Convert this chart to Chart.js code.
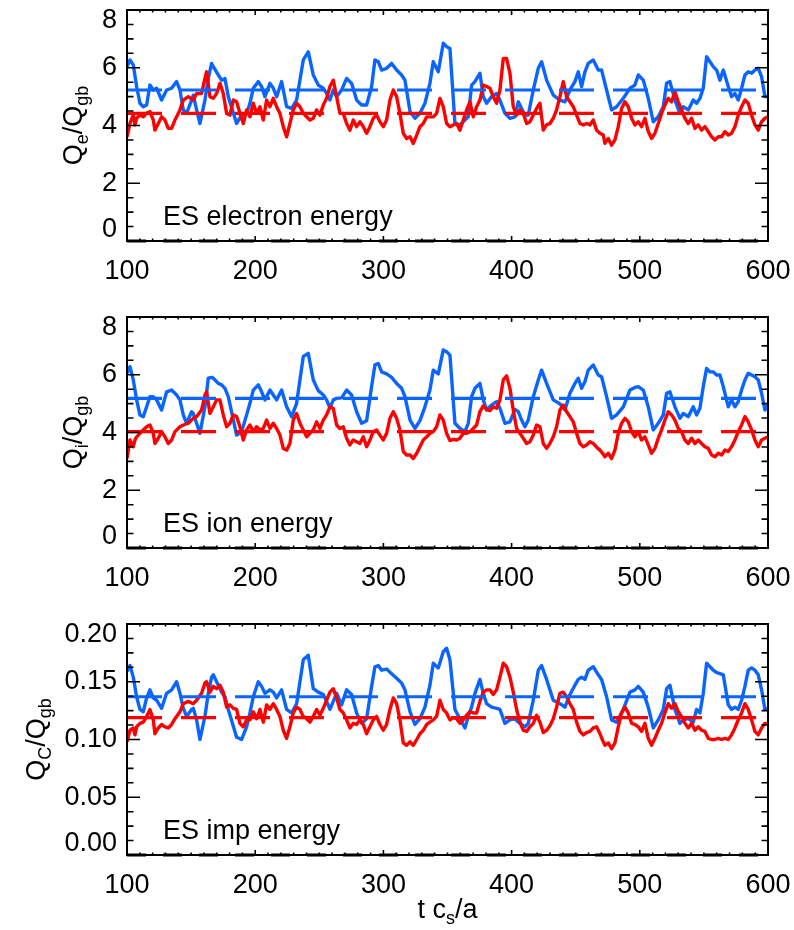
<!DOCTYPE html>
<html><head><meta charset="utf-8">
<script src="https://cdn.jsdelivr.net/npm/chart.js@4.4.1/dist/chart.umd.min.js"></script>
<style>
html,body{margin:0;padding:0;background:#fff;}
#wrap{position:relative;width:794px;height:930px;overflow:hidden;background:#fff;}
canvas{position:absolute;left:0;}
</style></head><body>
<div id="wrap">
<canvas id="c1" width="794" height="307" style="top:0px;width:794px;height:307px"></canvas>
<canvas id="c2" width="794" height="307" style="top:307px;width:794px;height:307px"></canvas>
<canvas id="c3" width="794" height="316" style="top:614px;width:794px;height:316px"></canvas>
</div>
<script>
// ---------------- data ----------------
const xTicks = [100, 200, 300, 400, 500, 600];
const panelLabels = ["ES electron energy", "ES ion energy", "ES imp energy"];

const tBlue = [100.0,102.3,104.9,107.5,110.1,112.7,115.3,117.9,120.5,123.1,127.0,130.9,134.8,138.7,141.3,143.9,146.5,150.4,151.7,154.3,156.9,160.8,163.4,166.0,167.3,171.2,173.8,176.4,179.0,185.5,189.4,193.3,195.9,198.5,202.4,205.0,207.6,211.5,214.1,216.7,220.6,224.5,228.4,232.3,237.5,241.4,245.3,249.2,253.1,255.7,258.3,260.9,263.5,267.4,271.3,275.2,279.1,283.0,286.9,290.8,293.4,296.0,298.6,302.5,306.4,310.3,314.2,316.8,320.8,324.6,328.5,332.4,336.3,338.9,342.8,346.7,349.3,
351.9,355.8,359.7,363.6,366.2,368.8,371.4,375.3,377.9,380.5,384.4,388.3,390.9,394.8,398.7,402.6,405.2,407.8,410.4,413.0,416.9,420.8,423.4,427.3,432.5,437.7,441.6,445.5,449.4,452.0,454.6,457.2,459.8,463.7,467.6,470.2,474.1,478.0,481.9,487.1,492.3,496.2,498.8,502.7,506.6,510.5,514.4,518.3,520.9,523.5,527.4,531.3,533.9,537.8,541.7,544.3,546.9,549.5,552.1,554.7,557.3,559.9,562.5,565.1,569.0,571.6,574.2,576.8,579.4,582.0,584.6,587.2,589.8,592.4,595.0,597.6,600.0];

const tRed = [100.0,102.3,104.9,106.2,107.5,110.1,112.7,115.3,117.9,120.5,121.8,124.4,127.0,129.6,132.2,134.8,137.4,141.3,143.9,147.8,151.7,154.3,158.2,160.8,162.1,
164.7,167.3,169.9,172.5,175.1,177.7,180.3,182.9,185.5,188.1,190.7,193.3,195.9,198.5,201.1,203.7,206.3,208.9,211.5,214.1,216.7,219.3,221.9,224.5,227.1,229.7,232.3,234.9,237.5,240.1,242.7,245.3,247.9,250.5,253.1,255.7,258.3,260.9,263.5,266.1,268.7,271.3,273.9,276.5,279.1,281.7,284.3,286.9,289.5,292.1,294.7,297.3,299.9,302.5,305.1,307.7,310.3,312.9,315.5,318.1,320.8,323.3,326.0,328.5,331.1,333.8,336.3,338.9,341.5,344.1,346.7,
349.3,351.9,354.5,357.1,359.7,362.3,364.9,367.5,370.1,372.7,375.3,377.9,380.5,383.1,385.7,388.3,390.9,393.5,396.1,398.7,401.3,403.9,406.5,409.1,411.7,414.3,416.9,419.5,422.1,424.7,427.3,429.9,432.5,435.1,437.7,440.3,442.9,445.5,448.1,450.7,453.3,455.9,458.5,461.1,463.7,466.3,468.9,471.5,
472.8,475.4,478.0,480.6,483.2,485.8,488.4,491.0,493.6,496.2,498.8,501.4,504.0,506.6,509.2,511.8,514.4,517.0,519.6,522.2,524.8,527.4,530.0,532.6,535.2,537.8,540.4,543.0,545.6,548.2,550.8,553.4,556.0,558.6,561.2,563.8,566.4,569.0,571.6,574.2,576.8,579.4,582.0,584.6,587.2,589.8,592.4,595.0,597.6,600.0];

// electron energy flux
const eBlue = [6.04,6.27,6.10,5.35,4.77,4.65,4.71,5.40,5.23,5.29,4.88,5.23,5.29,5.52,5.23,4.54,4.42,4.88,5.05,4.54,4.07,4.88,5.63,6.15,6.04,5.75,5.57,5.63,5.00,4.07,4.36,4.42,4.77,5.29,5.52,5.35,5.00,5.46,5.29,5.00,5.52,4.65,4.59,4.88,6.27,6.55,5.75,5.40,5.29,5.11,4.88,5.23,5.00,5.23,5.63,5.46,4.88,4.71,4.71,5.35,6.27,6.21,5.92,5.98,6.15,5.92,5.75,5.57,4.48,4.25,4.42,4.77,5.46,6.21,5.86,6.85,6.73,
6.67,4.07,4.02,4.19,4.30,5.40,5.52,5.81,5.00,4.77,5.00,5.11,4.88,4.42,4.25,4.30,4.82,4.59,4.36,4.36,5.23,5.98,6.21,5.57,5.05,4.88,4.82,5.23,5.52,5.86,5.35,5.86,6.15,6.27,5.92,5.92,5.23,4.54,4.65,4.94,5.29,5.40,5.75,5.57,4.94,4.13,4.30,4.65,5.46,5.52,4.88,4.42,4.65,4.54,4.88,4.77,4.94,5.29,6.38,6.21,6.04,5.92,5.57,5.92,5.35,5.00,5.11,4.88,5.29,5.75,5.86,5.81,5.92,5.98,5.69,5.00,5.00];
const eRed = [3.61,4.07,4.36,4.02,4.25,4.36,4.30,4.42,4.48,4.19,3.84,4.07,4.30,4.19,3.90,3.90,4.19,4.54,4.88,5.00,4.88,5.11,5.11,5.63,5.86,
5.00,4.94,5.11,5.46,5.11,4.42,4.36,4.88,4.82,4.42,4.07,4.54,4.30,4.77,4.42,4.65,4.19,4.88,4.65,4.94,4.65,4.42,3.96,3.61,4.07,4.54,4.77,4.65,4.42,4.30,4.19,4.25,4.54,4.36,4.71,4.94,5.35,5.57,5.00,4.42,4.42,4.07,3.84,4.19,3.96,4.13,3.96,3.73,3.96,4.25,4.36,4.13,3.96,4.19,4.88,5.23,5.00,4.42,3.73,3.55,3.61,3.38,3.67,3.96,4.07,4.30,4.30,4.30,4.42,4.94,4.65,
4.07,3.96,4.02,4.07,3.84,4.19,4.54,4.82,4.30,4.65,4.88,5.40,5.35,5.29,5.00,4.77,5.23,6.32,6.32,5.81,4.65,4.36,4.54,4.42,4.07,4.13,4.36,4.59,4.77,3.84,4.02,4.07,4.25,4.54,5.00,5.52,5.00,4.82,4.65,4.36,4.07,4.02,4.07,4.02,4.19,3.84,3.73,3.67,
3.38,3.55,3.32,3.50,3.96,4.59,4.82,4.65,4.25,4.02,4.13,3.96,4.25,3.79,3.55,3.73,4.07,4.42,4.71,4.94,4.82,5.17,4.82,4.54,4.25,4.07,4.25,3.90,4.02,3.84,3.96,3.79,3.61,3.50,3.61,3.61,3.79,3.67,3.73,3.96,4.36,4.65,4.88,4.77,4.36,4.02,3.84,4.13,4.25,4.30];
const eBlueMean = 5.23;
const eRedMean = 4.42;

// ion energy flux
const iBlue = [6.05,6.28,5.82,5.13,4.61,4.55,4.89,5.24,5.24,5.13,4.78,5.41,5.47,5.30,5.13,4.61,4.32,4.72,4.66,4.32,3.97,4.89,5.88,5.91,5.88,5.70,5.65,5.53,5.24,3.91,4.03,4.61,5.01,5.47,5.65,5.41,5.13,5.47,5.30,5.13,5.47,4.89,4.55,5.01,6.63,6.74,5.82,5.45,5.30,5.13,4.84,5.13,5.18,5.20,5.47,5.30,4.72,4.32,4.41,5.59,6.34,6.39,6.10,6.03,5.91,5.70,5.53,5.24,4.43,4.14,4.41,4.89,5.47,6.16,6.03,6.86,6.80,
6.68,4.32,4.14,4.03,4.32,5.24,5.53,5.70,5.13,4.78,4.95,5.07,4.84,4.32,4.37,4.80,4.72,4.43,4.20,4.43,5.24,5.82,6.16,5.70,5.13,4.99,4.78,5.36,5.70,5.88,5.53,5.76,6.16,6.34,5.99,5.93,5.24,4.49,4.61,4.89,5.47,5.56,5.59,5.47,4.89,4.09,4.32,4.61,5.36,5.41,4.89,4.49,4.66,4.55,4.89,4.61,4.84,5.59,6.22,6.10,6.10,5.99,5.99,5.59,4.89,5.13,4.89,5.07,5.47,5.82,6.05,5.99,5.93,5.82,5.36,4.78,4.95];
const iRed = [3.10,3.74,3.51,3.74,3.85,3.97,4.09,4.20,4.26,3.97,3.62,3.80,4.03,3.85,3.62,3.74,4.03,4.20,4.26,4.32,4.49,4.55,4.78,5.30,5.41,
4.66,4.89,5.13,5.13,4.61,4.20,4.32,4.61,4.55,4.20,3.74,4.09,4.26,4.03,4.20,4.09,4.14,4.43,4.14,4.32,4.14,3.91,3.45,3.39,3.62,4.43,4.66,4.32,4.09,3.85,3.97,4.09,4.37,4.14,4.43,4.61,4.89,4.84,4.26,4.14,4.20,3.80,3.57,3.74,3.68,3.62,3.85,3.51,3.74,4.03,4.09,3.91,3.74,3.97,4.49,4.72,4.49,4.09,3.34,3.22,3.22,3.10,3.28,3.51,3.74,3.85,3.97,4.03,4.20,4.61,4.43,
3.97,3.72,3.76,3.74,3.80,3.97,3.97,4.03,4.14,4.26,4.72,4.92,4.80,4.76,4.89,4.84,5.13,5.82,5.96,5.53,4.78,4.14,3.97,3.80,3.62,3.68,3.91,4.26,4.20,3.62,3.45,3.62,3.85,4.20,4.78,4.95,4.72,4.55,4.37,3.97,3.62,3.51,3.57,3.68,3.62,3.49,3.39,3.25,
3.16,3.28,3.10,3.39,3.97,4.32,4.49,4.37,4.03,3.85,4.03,3.74,3.85,3.57,3.28,3.45,3.80,4.09,4.43,4.72,4.61,4.43,4.14,4.03,3.74,3.62,3.80,3.62,3.74,3.62,3.51,3.45,3.22,3.16,3.28,3.22,3.39,3.34,3.51,3.74,4.03,4.26,4.55,4.37,4.09,3.74,3.51,3.74,3.80,3.85];
const iBlueMean = 5.18;
const iRedMean = 4.03;

// impurity (C) energy flux
const cBlue = [0.159,0.164,0.154,0.137,0.126,0.124,0.136,0.143,0.136,0.134,0.127,0.140,0.143,0.150,0.140,0.127,0.120,0.126,0.127,0.117,0.100,0.120,0.140,0.154,0.156,0.147,0.141,0.137,0.126,0.102,0.100,0.111,0.123,0.137,0.150,0.146,0.140,0.143,0.141,0.136,0.143,0.126,0.123,0.131,0.169,0.173,0.144,0.141,0.139,0.133,0.126,0.133,0.140,0.130,0.143,0.139,0.123,0.114,0.118,0.146,0.163,0.164,0.160,0.161,0.157,0.153,0.149,0.143,0.124,0.113,0.118,0.128,0.147,0.166,0.162,0.176,0.179,
0.169,0.126,0.118,0.110,0.120,0.128,0.140,0.152,0.140,0.131,0.128,0.127,0.126,0.114,0.117,0.118,0.115,0.113,0.111,0.114,0.134,0.160,0.164,0.152,0.134,0.131,0.128,0.139,0.147,0.152,0.154,0.152,0.160,0.163,0.156,0.152,0.137,0.117,0.115,0.126,0.141,0.143,0.146,0.141,0.128,0.110,0.117,0.126,0.144,0.147,0.126,0.114,0.117,0.118,0.115,0.126,0.123,0.140,0.166,0.163,0.160,0.158,0.157,0.156,0.130,0.126,0.128,0.126,0.134,0.146,0.160,0.162,0.160,0.156,0.143,0.126,0.127];
const cRed = [0.098,0.108,0.110,0.104,0.111,0.114,0.115,0.120,0.126,0.117,0.105,0.110,0.113,0.111,0.110,0.113,0.118,0.124,0.131,0.133,0.131,0.134,0.140,0.149,0.150,
0.141,0.146,0.144,0.147,0.141,0.128,0.130,0.127,0.126,0.114,0.111,0.117,0.117,0.124,0.118,0.126,0.115,0.130,0.126,0.131,0.126,0.120,0.108,0.101,0.111,0.123,0.128,0.126,0.120,0.118,0.115,0.120,0.126,0.121,0.127,0.134,0.141,0.144,0.136,0.126,0.123,0.117,0.110,0.114,0.113,0.117,0.113,0.105,0.111,0.117,0.120,0.113,0.108,0.113,0.126,0.136,0.131,0.117,0.097,0.095,0.098,0.095,0.100,0.105,0.108,0.113,0.115,0.117,0.120,0.134,0.126,
0.123,0.117,0.119,0.118,0.114,0.117,0.121,0.124,0.123,0.123,0.133,0.141,0.143,0.143,0.139,0.143,0.154,0.166,0.163,0.154,0.141,0.126,0.115,0.108,0.107,0.111,0.114,0.121,0.115,0.106,0.108,0.112,0.118,0.128,0.140,0.141,0.137,0.131,0.126,0.115,0.107,0.104,0.106,0.107,0.110,0.111,0.105,0.098,
0.095,0.097,0.092,0.097,0.111,0.123,0.128,0.123,0.114,0.113,0.111,0.107,0.114,0.101,0.095,0.101,0.108,0.114,0.123,0.131,0.127,0.131,0.124,0.120,0.114,0.110,0.114,0.108,0.111,0.108,0.107,0.101,0.100,0.100,0.101,0.100,0.101,0.100,0.104,0.110,0.117,0.123,0.131,0.126,0.117,0.107,0.104,0.110,0.114,0.114];
const cBlueMean = 0.137;
const cRedMean = 0.119;

// ---------------- styling ----------------
const FONT = '"Liberation Sans", Arial, Helvetica, sans-serif';
const RED = '#ff0000';
const BLUE = '#0a64ff';
const MAIN_PX = 27, SUB_PX = 18, SUB_DY = 6;

function pts(t, v) {
  const n = Math.min(t.length, v.length);
  const out = [];
  for (let i = 0; i < n; i++) out.push({x: t[i], y: v[i]});
  return out;
}

function drawRich(ctx, parts, cx, cy, rotated) {
  ctx.save();
  ctx.translate(cx, cy);
  if (rotated) ctx.rotate(-Math.PI / 2);
  ctx.textAlign = 'left';
  ctx.textBaseline = 'alphabetic';
  ctx.fillStyle = '#000';
  let total = 0;
  const widths = parts.map(p => {
    ctx.font = (p[1] ? SUB_PX : MAIN_PX) + 'px ' + FONT;
    const w = ctx.measureText(p[0]).width;
    total += w;
    return w;
  });
  let xx = -total / 2;
  parts.forEach((p, i) => {
    ctx.font = (p[1] ? SUB_PX : MAIN_PX) + 'px ' + FONT;
    ctx.fillText(p[0], xx, p[1] ? SUB_DY : 0);
    xx += widths[i];
  });
  ctx.restore();
}

const idlPlugin = {
  id: 'idl',
  afterDatasetsDraw(chart, args, o) {
    const ctx = chart.ctx, ca = chart.chartArea;
    const xs = chart.scales.x, ys = chart.scales.y;
    ctx.save();
    ctx.strokeStyle = '#000';
    ctx.lineWidth = 1.6;
    ctx.beginPath();
    for (let k = 0; k <= 50; k++) {
      const px = xs.getPixelForValue(100 + 10 * k);
      const len = (k % 10 === 0) ? 5 : 2.5;
      ctx.moveTo(px, ca.bottom); ctx.lineTo(px, ca.bottom - len);
      ctx.moveTo(px, ca.top); ctx.lineTo(px, ca.top + len);
    }
    const n = Math.round((o.yMax - o.yMin) / o.yMinor);
    for (let k = 0; k <= n; k++) {
      const py = ys.getPixelForValue(o.yMin + k * o.yMinor);
      const len = (k % 4 === 0) ? 13 : 6.5;
      ctx.moveTo(ca.left, py); ctx.lineTo(ca.left + len, py);
      ctx.moveTo(ca.right, py); ctx.lineTo(ca.right - len, py);
    }
    ctx.stroke();
    ctx.lineWidth = 2;
    ctx.strokeRect(ca.left, ca.top, ca.right - ca.left, ca.bottom - ca.top);
    ctx.fillStyle = '#000';
    ctx.font = MAIN_PX + 'px ' + FONT;
    ctx.textAlign = 'left';
    ctx.textBaseline = 'alphabetic';
    ctx.fillText(o.label, 163, 225);
    drawRich(ctx, o.yTitle, o.yTitleX, (ca.top + ca.bottom) / 2, true);
    if (o.xTitle) drawRich(ctx, o.xTitle, (ca.left + ca.right) / 2, o.xTitleY, false);
    ctx.restore();
  }
};

function makeChart(id, H, cfg) {
  const zero = [{x: xTicks[0], y: 0}, {x: xTicks[xTicks.length - 1], y: 0}];
  const flat = m => [{x: xTicks[0], y: m}, {x: xTicks[xTicks.length - 1], y: m}];
  return new Chart(document.getElementById(id), {
    type: 'line',
    data: {
      datasets: [
        {data: zero, borderColor: '#000', borderWidth: 3, borderDash: [19, 17], pointRadius: 0, order: 0, clip: false},
        {data: flat(cfg.redMean), borderColor: RED, borderWidth: 3.2, borderDash: [35, 19], pointRadius: 0, order: 1},
        {data: flat(cfg.blueMean), borderColor: BLUE, borderWidth: 3.2, borderDash: [35, 19], pointRadius: 0, order: 2},
        {data: pts(tRed, cfg.red), borderColor: RED, borderWidth: 3.4, pointRadius: 0, tension: 0, borderJoinStyle: 'round', order: 3},
        {data: pts(tBlue, cfg.blue), borderColor: BLUE, borderWidth: 3.4, pointRadius: 0, tension: 0, borderJoinStyle: 'round', order: 4}
      ]
    },
    options: {
      responsive: false,
      animation: false,
      devicePixelRatio: 1,
      layout: {padding: {top: 10, right: 26, left: 0, bottom: 0}},
      plugins: {legend: {display: false}, tooltip: {enabled: false}, idl: cfg.idl},
      scales: {
        x: {
          type: 'linear', min: xTicks[0], max: xTicks[xTicks.length - 1],
          grid: {display: false, drawTicks: false},
          border: {display: false},
          afterBuildTicks: s => { s.ticks = xTicks.map(v => ({value: v})); },
          ticks: {color: '#000', font: {family: FONT, size: MAIN_PX}, padding: 14, maxRotation: 0, autoSkip: false},
          afterFit: s => { s.height = H - 241; s.paddingLeft = 0; s.paddingRight = 0; }
        },
        y: {
          type: 'linear', min: cfg.idl.yMin, max: cfg.idl.yMax,
          grid: {display: false, drawTicks: false},
          border: {display: false},
          ticks: {
            color: '#000', font: {family: FONT, size: MAIN_PX, lineHeight: '22px'}, padding: 10,
            stepSize: cfg.step, autoSkip: false,
            callback: (v, i, ticks) => {
              const s = cfg.dec ? Number(v).toFixed(cfg.dec) : String(Math.round(v));
              if (i === 0) return [s, ''];
              if (i === ticks.length - 1) return ['', s];
              return s;
            }
          },
          afterFit: s => { s.width = 127; s.paddingTop = 0; s.paddingBottom = 0; }
        }
      }
    },
    plugins: [idlPlugin]
  });
}

makeChart('c1', 307, {
  blue: eBlue, red: eRed, blueMean: eBlueMean, redMean: eRedMean, step: 2, dec: 0,
  idl: {yMin: 0, yMax: 8, yMinor: 0.5, label: panelLabels[0], yTitleX: 82,
        yTitle: [['Q', 0], ['e', 1], ['/Q', 0], ['gb', 1]]}
});
makeChart('c2', 307, {
  blue: iBlue, red: iRed, blueMean: iBlueMean, redMean: iRedMean, step: 2, dec: 0,
  idl: {yMin: 0, yMax: 8, yMinor: 0.5, label: panelLabels[1], yTitleX: 82,
        yTitle: [['Q', 0], ['i', 1], ['/Q', 0], ['gb', 1]]}
});
makeChart('c3', 316, {
  blue: cBlue, red: cRed, blueMean: cBlueMean, redMean: cRedMean, step: 0.05, dec: 2,
  idl: {yMin: 0, yMax: 0.2, yMinor: 0.0125, label: panelLabels[2], yTitleX: 45,
        yTitle: [['Q', 0], ['C', 1], ['/Q', 0], ['gb', 1]],
        xTitle: [['t c', 0], ['s', 1], ['/a', 0]], xTitleY: 304}
});
</script>
</body></html>
